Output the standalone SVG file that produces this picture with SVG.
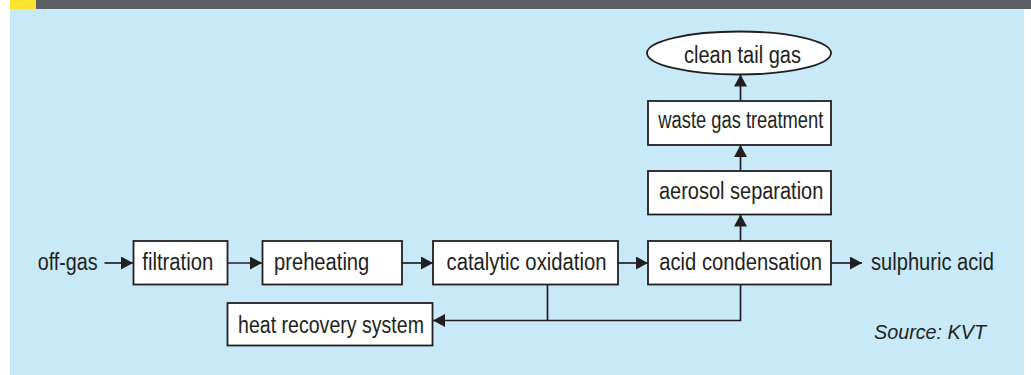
<svg xmlns="http://www.w3.org/2000/svg" width="1031" height="375" viewBox="0 0 1031 375">
<defs>
<style>
.box{fill:#ffffff;stroke:#231f20;stroke-width:1.8}
.lbl{font-family:"Liberation Sans",Arial,sans-serif;font-size:23px;fill:#231f20}
.src{font-family:"Liberation Sans",Arial,sans-serif;font-size:20.5px;font-style:italic;fill:#231f20}
.con{fill:none;stroke:#231f20;stroke-width:1.7}
</style>
<marker id="arr" markerUnits="userSpaceOnUse" markerWidth="14" markerHeight="14" refX="12" refY="6.5" orient="auto">
<path d="M0,0 L12,6.5 L0,13 z" fill="#231f20"/>
</marker>
</defs>
<rect x="0" y="0" width="1031" height="375" fill="#ffffff"/>
<rect x="10" y="9" width="1014" height="366" fill="#c8e9f8"/>
<rect x="36" y="0" width="995" height="9" fill="#5b5e62"/>
<rect x="10" y="0" width="26" height="9" fill="#fde22e"/>

<g id="connectors">
<path class="con" d="M104.5,263 L133,263" marker-end="url(#arr)"/>
<path class="con" d="M228,263 L262,263" marker-end="url(#arr)"/>
<path class="con" d="M402,263 L433,263" marker-end="url(#arr)"/>
<path class="con" d="M618,263 L648,263" marker-end="url(#arr)"/>
<path class="con" d="M831,263 L862,263" marker-end="url(#arr)"/>
<path class="con" d="M740.5,241 L740.5,214.5" marker-end="url(#arr)"/>
<path class="con" d="M740.5,171 L740.5,145" marker-end="url(#arr)"/>
<path class="con" d="M740.5,101 L740.5,74.5" marker-end="url(#arr)"/>
<path class="con" d="M547.5,284.5 L547.5,320.5"/>
<path class="con" d="M740.5,284.5 L740.5,320.5 L433,320.5" marker-end="url(#arr)"/>
</g>

<g id="off-gas"><text class="lbl" x="37.7" y="270" textLength="60" lengthAdjust="spacingAndGlyphs">off-gas</text></g>
<g id="filtration"><rect class="box" x="133.5" y="241" width="94" height="43.5"/><text class="lbl" x="142.3" y="270" textLength="71" lengthAdjust="spacingAndGlyphs">filtration</text></g>
<g id="preheating"><rect class="box" x="262.5" y="241" width="139.5" height="43.5"/><text class="lbl" x="274" y="270" textLength="95.3" lengthAdjust="spacingAndGlyphs">preheating</text></g>
<g id="catalytic-oxidation"><rect class="box" x="433" y="241" width="185" height="43.5"/><text class="lbl" x="446.5" y="270" textLength="160" lengthAdjust="spacingAndGlyphs">catalytic oxidation</text></g>
<g id="acid-condensation"><rect class="box" x="648" y="241" width="183" height="43.5"/><text class="lbl" x="659.3" y="270" textLength="162.7" lengthAdjust="spacingAndGlyphs">acid condensation</text></g>
<g id="sulphuric-acid"><text class="lbl" x="871" y="270" textLength="123" lengthAdjust="spacingAndGlyphs">sulphuric acid</text></g>
<g id="aerosol-separation"><rect class="box" x="648" y="171" width="183" height="43.5"/><text class="lbl" x="659" y="199.3" textLength="164.3" lengthAdjust="spacingAndGlyphs">aerosol separation</text></g>
<g id="waste-gas-treatment"><rect class="box" x="648" y="101" width="183" height="44"/><text class="lbl" x="658.3" y="128.3" textLength="165" lengthAdjust="spacingAndGlyphs">waste gas treatment</text></g>
<g id="clean-tail-gas"><ellipse class="box" cx="739" cy="53" rx="92" ry="21.5"/><text class="lbl" x="684" y="62.7" textLength="117" lengthAdjust="spacingAndGlyphs">clean tail gas</text></g>
<g id="heat-recovery-system"><rect class="box" x="227.5" y="303" width="205" height="42.5"/><text class="lbl" x="238" y="332.5" textLength="186" lengthAdjust="spacingAndGlyphs">heat recovery system</text></g>
<g id="source"><text class="src" x="874" y="339.3" textLength="112" lengthAdjust="spacingAndGlyphs">Source: KVT</text></g>
</svg>
